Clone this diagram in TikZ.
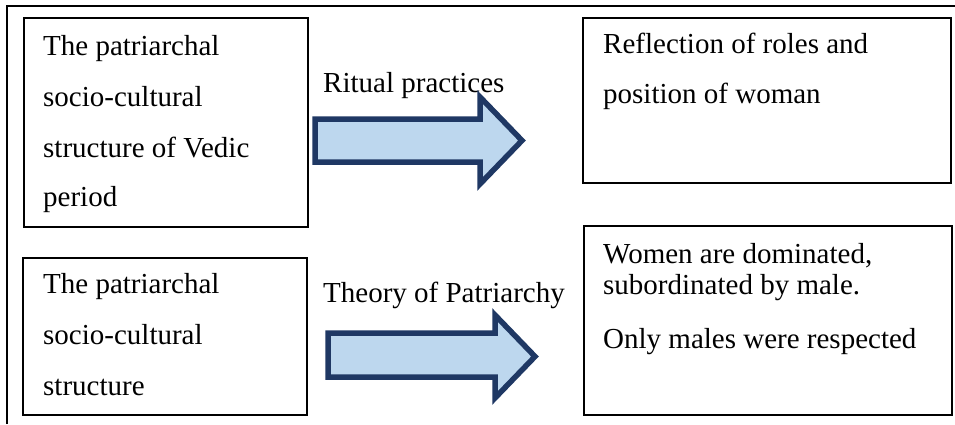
\documentclass[tikz,border=0pt]{standalone}
\usepackage{fontspec}
\setmainfont{Liberation Serif}
\definecolor{arrowline}{HTML}{1F3864}
\definecolor{arrowfill}{HTML}{BDD7EE}
\begin{document}
\begin{tikzpicture}[x=1pt,y=-1pt,
  box/.style={draw=black, line width=2pt, inner sep=0pt},
  txt/.style={inner sep=0pt, align=left, anchor=base west, font=\fontsize{29}{50.5}\selectfont},
  txtb/.style={inner sep=0pt, align=left, anchor=base west, font=\fontsize{29}{32}\selectfont},
  blockarrow/.style={draw=arrowline, fill=arrowfill, line width=5.5pt, line join=miter}]
\useasboundingbox (0,0) rectangle (955,424);
% outer frame (left and top edges visible)
\coordinate (fbl) at (7,424);
\coordinate (ftl) at (7,6);
\coordinate (ftr) at (955,6);
\draw[line width=2.5pt] (fbl) -- (ftl) -- (ftr);
% boxes
\node[box, minimum width=284pt, minimum height=209pt, anchor=north west] (b1) at (23,17) {};
\node[box, minimum width=284pt, minimum height=157pt, anchor=north west] (b2) at (22,257) {};
\node[box, minimum width=368pt, minimum height=165pt, anchor=north west] (b3) at (582,17) {};
\node[box, minimum width=368pt, minimum height=189pt, anchor=north west] (b4) at (583,225) {};
% box texts (one node per line, base anchored)
\node[txt] (t1a) at (43,55) {The patriarchal};
\node[txt] (t1b) at (43,106) {socio-cultural};
\node[txt] (t1c) at (43,157) {structure of Vedic};
\node[txt] (t1d) at (43,206) {period};
\node[txt] (t2a) at (43,293) {The patriarchal};
\node[txt] (t2b) at (43,344) {socio-cultural};
\node[txt] (t2c) at (43,395) {structure};
\node[txt] (t3a) at (603,53) {Reflection of roles and};
\node[txt] (t3b) at (603,103) {position of woman};
\node[txtb] (t4a) at (603,263) {Women are dominated,};
\node[txtb] (t4b) at (603,294) {subordinated by male.};
\node[txtb] (t4c) at (603,348) {Only males were respected};
% arrow labels
\node[txt] (l1) at (323,92) {Ritual practices};
\node[txt] (l2) at (323,302) {Theory of Patriarchy};
% block arrows
\draw[blockarrow] (315,119) -- (480,119) -- (480,97) -- (522,140.5) -- (480,184) -- (480,162) -- (315,162) -- cycle;
\draw[blockarrow] (328,333) -- (495,333) -- (495,315) -- (535,356.5) -- (495,398) -- (495,377) -- (328,377) -- cycle;
\end{tikzpicture}
\end{document}
